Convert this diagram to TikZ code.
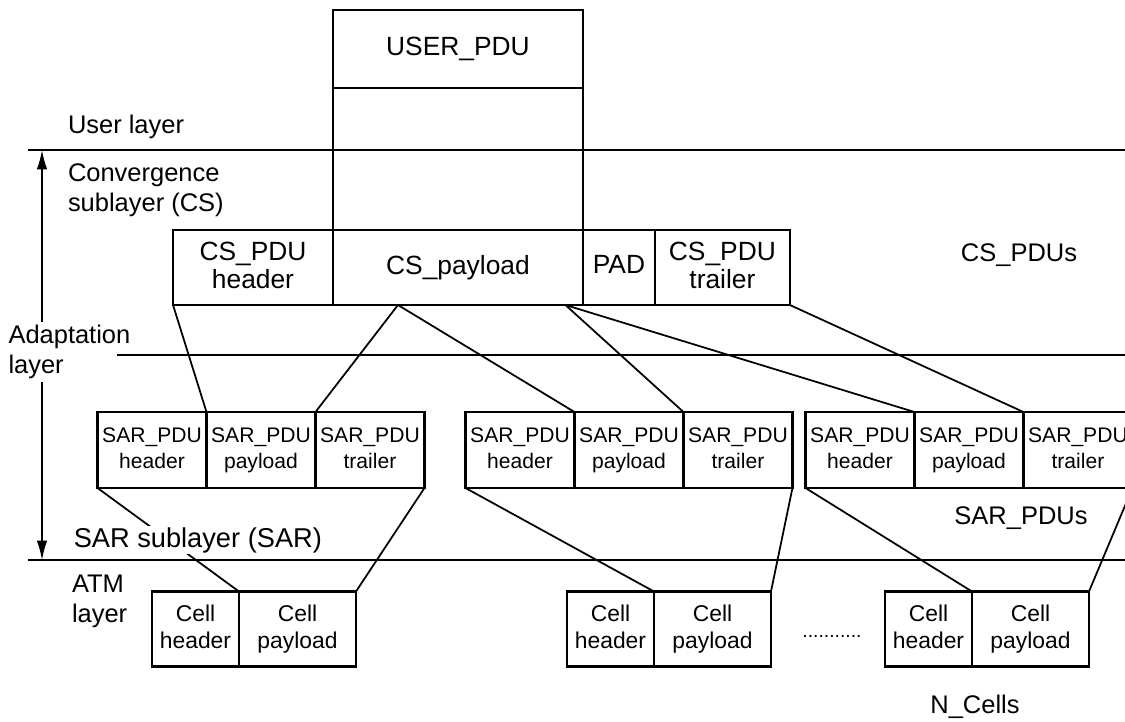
\documentclass[tikz,border=0pt]{standalone}
\usepackage{fontspec}
\setmainfont{Liberation Sans}
\usetikzlibrary{arrows.meta, positioning, calc}
\newcommand{\boxstrut}{\rule[-0.2em]{0pt}{0.72em}}

\begin{document}
\begin{tikzpicture}[
    x=0.02cm, y=-0.02cm,
    every node/.style={align=center, inner sep=0pt, outer sep=0pt},
    box/.style={rectangle, draw=black, line width=1.5pt, minimum height=1.5cm,
        execute at begin node=\boxstrut, execute at end node=\boxstrut},
    csbox/.style={box, font=\fontsize{15}{16}\selectfont},
    sarbox/.style={box, minimum width=2.18cm, minimum height=1.52cm, font=\fontsize{12}{15}\selectfont},
    cellhd/.style={box, minimum width=1.74cm, minimum height=1.5cm, font=\fontsize{13}{15}\selectfont},
    cellpl/.style={cellhd, minimum width=2.34cm},
    lbl/.style={anchor=west, align=left, font=\fontsize{14.5}{17}\selectfont},
    note/.style={font=\fontsize{14.5}{17}\selectfont},
    link/.style={line width=1pt},
    layerline/.style={line width=0.9pt},
    span/.style={{Latex[length=11pt,width=6pt]}-{Latex[length=11pt,width=6pt]}, line width=0.9pt}
]
\clip (0,0) rectangle (1125,721);

% CS_PDU ROW
\node[csbox, minimum width=3.2cm] (cshead) at (253,267.5) {CS\_PDU\\header};
\node[csbox, minimum width=5cm, right=0pt of cshead] (cspay) {CS\_payload};
\node[csbox, minimum width=1.44cm, right=0pt of cspay] (pad) {PAD};
\node[csbox, minimum width=2.7cm, right=0pt of pad] (cstrail) {CS\_PDU\\trailer};

% USER_PDU
\node[box, minimum width=5cm, minimum height=2.84cm, above=0pt of cspay] (userbody) {};
\node[csbox, minimum width=5cm, minimum height=1.56cm, above=0pt of userbody] (userpdu) {USER\_PDU};

% SAR_PDU ROW
\node[sarbox] (sarAh) at (152,450) {SAR\_PDU\\header};
\node[sarbox, right=0pt of sarAh] (sarAp) {SAR\_PDU\\payload};
\node[sarbox, right=0pt of sarAp] (sarAt) {SAR\_PDU\\trailer};
\node[sarbox] (sarBh) at (520,450) {SAR\_PDU\\header};
\node[sarbox, right=0pt of sarBh] (sarBp) {SAR\_PDU\\payload};
\node[sarbox, right=0pt of sarBp] (sarBt) {SAR\_PDU\\trailer};
\node[sarbox] (sarCh) at (860,450) {SAR\_PDU\\header};
\node[sarbox, right=0pt of sarCh] (sarCp) {SAR\_PDU\\payload};
\node[sarbox, right=0pt of sarCp] (sarCt) {SAR\_PDU\\trailer};

% CELL ROW
\node[cellhd] (cellAh) at (195.5,629) {Cell\\header};
\node[cellpl, right=0pt of cellAh] (cellAp) {Cell\\payload};
\node[cellhd] (cellBh) at (610.5,629) {Cell\\header};
\node[cellpl, right=0pt of cellBh] (cellBp) {Cell\\payload};
\node[cellhd] (cellCh) at (928.5,629) {Cell\\header};
\node[cellpl, right=0pt of cellCh] (cellCp) {Cell\\payload};
\node[font=\fontsize{11}{12}\selectfont] (dots) at (832,636) {...........};

% LAYER LINES
\coordinate (userW) at (28,150);
\coordinate (userE) at (1125,150);
\coordinate (adaptW) at (117,355);
\coordinate (adaptE) at (1125,355);
\coordinate (atmW) at (28,560);
\coordinate (atmE) at (1125,560);
\draw[layerline] (userW) -- (userE);
\draw[layerline] (atmW) -- (atmE);

\coordinate (spanT) at (42,150);
\coordinate (spanB) at (42,560);
\draw[span] (spanT) -- (spanB);

% SPLIT POINTS ON CS_payload
\coordinate (splitA) at ($(cspay.south west)!0.26!(cspay.south east)$);
\coordinate (splitB) at ($(cspay.south west)!0.93!(cspay.south east)$);

% CS -> SAR
\draw[link] (cshead.south west) -- (sarAh.north east);
\draw[link] (splitA) -- (sarAp.north east);
\draw[link] (splitA) -- (sarBh.north east);
\draw[link] (splitB) -- (sarBp.north east);
\draw[link] (splitB) -- (sarCh.north east);
\draw[link] (cstrail.south east) -- (sarCp.north east);

% SAR -> CELL
\draw[link] (sarAh.south west) -- (cellAh.north east);
\draw[link] (sarAt.south east) -- (cellAp.north east);
\draw[link] (sarBh.south west) -- (cellBh.north east);
\draw[link] (sarBt.south east) -- (cellBp.north east);
\draw[link] (sarCh.south west) -- (cellCh.north east);
\draw[link] (sarCt.south east) -- (cellCp.north east);

% LABELS
\node[lbl] (userlbl) at (68,127) {User layer};
\node[lbl] (cslbl) at (68,190) {Convergence\\sublayer (CS)};
\node[lbl, fill=white, inner sep=2pt] (adaptlbl) at (5,352) {Adaptation\\layer};
\node[lbl, fill=white, inner sep=1pt, font=\fontsize{15.5}{17}\selectfont] (sarlbl) at (72,540) {SAR sublayer (SAR)};
\node[lbl] (atmlbl) at (72,601) {ATM\\layer};
\node[note] (cspdus) at (1019,255) {CS\_PDUs};
\node[note] (sarpdus) at (1021,518) {SAR\_PDUs};
\node[note] (ncells) at (975,707) {N\_Cells};
\draw[layerline] (adaptW) -- (adaptE);

\end{tikzpicture}
\end{document}
